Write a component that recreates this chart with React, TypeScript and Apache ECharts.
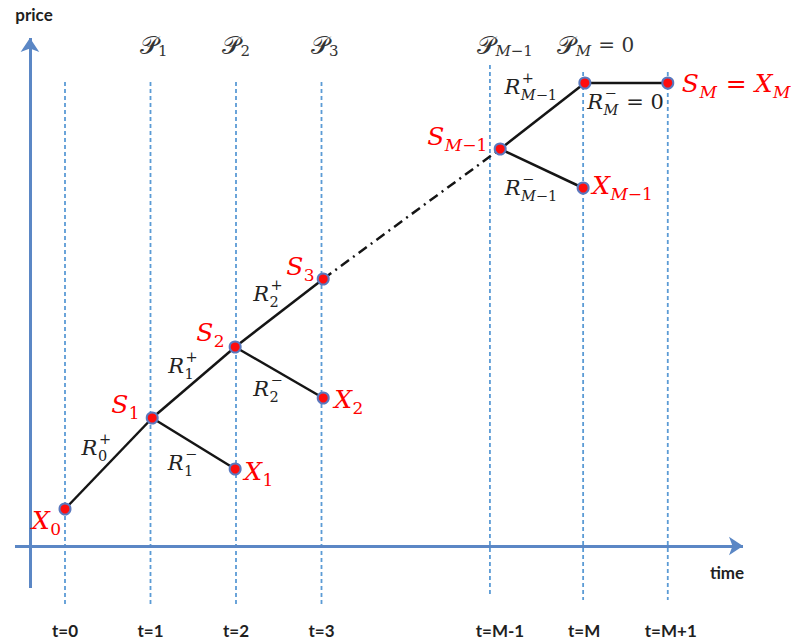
import React, { useEffect, useRef } from 'react';
import * as echarts from 'echarts';

// ---- data ----
const T_LABELS = ['t=0', 't=1', 't=2', 't=3', 't=M-1', 't=M', 't=M+1'];
const T_SLOTS = [0, 1, 2, 3, 4.97, 6.06, 7.05];

const NODE_NAMES = ['X0', 'S1', 'X1', 'S2', 'X2', 'S3', 'SM1', 'XM1', 'SM', 'SMX'];
const NODE_TIME = [0, 1.02, 1.99, 1.99, 3.02, 3.02, 5.09, 6.06, 6.08, 7.05];
const NODE_PRICE = [3.7, 12.8, 7.7, 19.9, 14.8, 26.7, 39.7, 35.8, 46.3, 46.3];

const EDGE_FROM = ['X0', 'S1', 'S1', 'S2', 'S2', 'S3', 'SM1', 'SM1', 'SM'];
const EDGE_TO = ['S1', 'X1', 'S2', 'X2', 'S3', 'SM1', 'SM', 'XM1', 'SMX'];
const EDGE_DASHDOT = [false, false, false, false, false, true, false, false, false];

// guide (period) lines extents, in price units
const GUIDE_TOP = [46.4, 46.4, 46.4, 46.4, 48.1, 47.4, 47.4];
const GUIDE_BOTTOM = [-6.4, -6.4, -6.4, -6.4, -4.9, -5.4, -5.4];
const HEADER_PRICE = 50.1;

// axis arrows extents
const X_AXIS_FROM = -0.585;
const X_AXIS_TO = 7.93;
const Y_AXIS_AT = -0.41;
const Y_AXIS_FROM = -4.2;
const Y_AXIS_TO = 50.8;

type Atom = { b?: string; sup?: string; sub?: string; t?: string };
type Anchor = ['node', string] | ['edge', number] | ['slot', number];
type LabelDef = { kind: 'red' | 'black' | 'cal'; anchor: Anchor; atoms: Atom[]; dx: number; dy: number };

const LABELS: LabelDef[] = [
  { kind: 'red', anchor: ['node', 'X0'], atoms: [{ b: 'X', sub: '0' }], dx: -33, dy: 11 },
  { kind: 'red', anchor: ['node', 'S1'], atoms: [{ b: 'S', sub: '1' }], dx: -41, dy: -14 },
  { kind: 'red', anchor: ['node', 'X1'], atoms: [{ b: 'X', sub: '1' }], dx: 9, dy: 2 },
  { kind: 'red', anchor: ['node', 'S2'], atoms: [{ b: 'S', sub: '2' }], dx: -39, dy: -15 },
  { kind: 'red', anchor: ['node', 'X2'], atoms: [{ b: 'X', sub: '2' }], dx: 11, dy: 1 },
  { kind: 'red', anchor: ['node', 'S3'], atoms: [{ b: 'S', sub: '3' }], dx: -37, dy: -13 },
  { kind: 'red', anchor: ['node', 'SM1'], atoms: [{ b: 'S', sub: 'M−1' }], dx: -73, dy: -13 },
  { kind: 'red', anchor: ['node', 'XM1'], atoms: [{ b: 'X', sub: 'M−1' }], dx: 9, dy: -3 },
  { kind: 'red', anchor: ['node', 'SMX'], atoms: [{ b: 'S', sub: 'M' }, { t: ' = ' }, { b: 'X', sub: 'M' }], dx: 14, dy: 0 },

  { kind: 'black', anchor: ['edge', 0], atoms: [{ b: 'R', sup: '+', sub: '0' }], dx: -27, dy: -15.5 },
  { kind: 'black', anchor: ['edge', 1], atoms: [{ b: 'R', sup: '−', sub: '1' }], dx: -26, dy: 19.5 },
  { kind: 'black', anchor: ['edge', 2], atoms: [{ b: 'R', sup: '+', sub: '1' }], dx: -25.5, dy: -16.5 },
  { kind: 'black', anchor: ['edge', 3], atoms: [{ b: 'R', sup: '−', sub: '2' }], dx: -26, dy: 16.5 },
  { kind: 'black', anchor: ['edge', 4], atoms: [{ b: 'R', sup: '+', sub: '2' }], dx: -26, dy: -19 },
  { kind: 'black', anchor: ['edge', 6], atoms: [{ b: 'R', sup: '+', sub: 'M−1' }], dx: -38, dy: -29 },
  { kind: 'black', anchor: ['edge', 7], atoms: [{ b: 'R', sup: '−', sub: 'M−1' }], dx: -37, dy: 19.5 },
  { kind: 'black', anchor: ['edge', 8], atoms: [{ b: 'R', sup: '−', sub: 'M' }, { t: ' = 0' }], dx: -39, dy: 19 },

  { kind: 'cal', anchor: ['slot', 1], atoms: [{ b: '𝒫', sub: '1' }], dx: -11, dy: 0 },
  { kind: 'cal', anchor: ['slot', 2], atoms: [{ b: '𝒫', sub: '2' }], dx: -14, dy: 0 },
  { kind: 'cal', anchor: ['slot', 3], atoms: [{ b: '𝒫', sub: '3' }], dx: -11, dy: 0 },
  { kind: 'cal', anchor: ['slot', 4], atoms: [{ b: '𝒫', sub: 'M−1' }], dx: -13, dy: 0 },
  { kind: 'cal', anchor: ['slot', 5], atoms: [{ b: '𝒫', sub: 'M' }, { t: ' = 0' }], dx: -26, dy: 0 },
];

const T_LABEL_SHIFT = [0, 0, 0, 0, 10, 1, 3];

// ---- styles ----
const MATH_FONT = '"DejaVu Serif", "DejaVu Sans", serif';
type LabelClass = { color: string; base: number; script: number; tail: number; sub: number; sup: number; italicBase: boolean };
const LABEL_CLASS: Record<string, LabelClass> = {
  red: { color: '#ff0000', base: 25, script: 17, tail: 25, sub: 8.5, sup: -9.5, italicBase: true },
  black: { color: '#222222', base: 21, script: 14.5, tail: 21, sub: 7.5, sup: -9.5, italicBase: true },
  cal: { color: '#333333', base: 25, script: 15, tail: 20, sub: 6, sup: -9, italicBase: false },
};

let measureCtx: CanvasRenderingContext2D | null = null;
function textWidth(text: string, size: number, italic: boolean): number {
  if (!measureCtx) measureCtx = document.createElement('canvas').getContext('2d');
  if (!measureCtx) return text.length * size * 0.6;
  measureCtx.font = `${italic ? 'italic ' : ''}${size}px ${MATH_FONT}`;
  return measureCtx.measureText(text).width;
}

function pushText(children: any[], text: string, x: number, y: number, size: number, italic: boolean, color: string): number {
  children.push({
    type: 'text',
    x,
    y,
    style: {
      text,
      fill: color,
      fontSize: size,
      fontFamily: MATH_FONT,
      fontStyle: italic ? 'italic' : 'normal',
      align: 'left',
      verticalAlign: 'middle',
    },
  });
  return x + textWidth(text, size, italic);
}

function pushRun(children: any[], text: string, x: number, y: number, size: number, color: string): number {
  for (const ch of Array.from(text)) {
    const it = /[A-Za-z]/.test(ch);
    x = pushText(children, ch, x, y, size, it, color);
  }
  return x;
}

function nodeIndex(name: string) {
  return NODE_NAMES.indexOf(name);
}

function anchorOf(a: Anchor): [number, number] {
  if (a[0] === 'node') {
    const i = nodeIndex(a[1] as string);
    return [NODE_TIME[i], NODE_PRICE[i]];
  }
  if (a[0] === 'edge') {
    const e = a[1] as number;
    const i = nodeIndex(EDGE_FROM[e]);
    const j = nodeIndex(EDGE_TO[e]);
    return [(NODE_TIME[i] + NODE_TIME[j]) / 2, (NODE_PRICE[i] + NODE_PRICE[j]) / 2];
  }
  return [T_SLOTS[a[1] as number], HEADER_PRICE];
}

function buildLabel(def: LabelDef, px: number, py: number) {
  const cls = LABEL_CLASS[def.kind];
  const children: any[] = [];
  let x = px + def.dx;
  const y = py + def.dy;
  for (const atom of def.atoms) {
    if (atom.b) {
      const bx = pushText(children, atom.b, x, y, cls.base, cls.italicBase, cls.color);
      let end = bx;
      if (atom.sup) end = Math.max(end, pushRun(children, atom.sup, bx + 1.5, y + cls.sup, cls.script, cls.color));
      if (atom.sub) end = Math.max(end, pushRun(children, atom.sub, bx + 0.5, y + cls.sub, cls.script, cls.color));
      x = end + 1;
    }
    if (atom.t) {
      x = pushRun(children, atom.t, x, y, cls.tail, cls.color);
    }
  }
  return { type: 'group', children };
}

const AXIS_FONT = 'Lato, "Open Sans", sans-serif';

export default function App() {
  const ref = useRef<HTMLDivElement>(null);
  useEffect(() => {
    if (!ref.current) return;
    const chart = echarts.init(ref.current, undefined, { renderer: 'svg' });

    const guideSeries = T_SLOTS.map((s, i) => ({
      type: 'line',
      data: [
        [s, GUIDE_TOP[i]],
        [s, GUIDE_BOTTOM[i]],
      ],
      symbol: 'none',
      silent: true,
      z: 1,
      lineStyle: { color: '#5b9bd5', width: 1.8, type: [4, 3] },
    }));

    const edgeSeries = EDGE_FROM.map((f, e) => {
      const i = nodeIndex(f);
      const j = nodeIndex(EDGE_TO[e]);
      return {
        type: 'line',
        data: [
          [NODE_TIME[i], NODE_PRICE[i]],
          [NODE_TIME[j], NODE_PRICE[j]],
        ],
        symbol: 'none',
        silent: true,
        z: 3,
        lineStyle: { color: '#151515', width: 2.5, type: EDGE_DASHDOT[e] ? [10, 5, 2, 5] : 'solid' },
      };
    });

    const rich: Record<string, any> = {};
    T_LABELS.forEach((_, i) => {
      const s = T_LABEL_SHIFT[i];
      rich['s' + i] = {
        fontFamily: AXIS_FONT,
        fontSize: 17,
        fontWeight: 'bold',
        color: '#1f1f1f',
        padding: s >= 0 ? [0, 0, 0, 2 * s] : [0, -2 * s, 0, 0],
      };
    });

    const option: any = {
      animation: false,
      grid: { left: 13.7, right: 27.9, top: 26, bottom: 37, containLabel: false },
      xAxis: {
        type: 'value',
        min: -0.6,
        max: 8.2,
        axisLine: { show: false, onZero: false },
        axisTick: { show: false },
        splitLine: { show: false },
        axisLabel: {
          customValues: T_SLOTS,
          margin: 16,
          formatter: (v: number) => {
            const i = T_SLOTS.findIndex((s) => Math.abs(s - v) < 1e-6);
            return i < 0 ? '' : `{s${i}|${T_LABELS[i]}}`;
          },
          rich,
        },
      },
      yAxis: { type: 'value', min: -6, max: 52, show: false },
      graphic: [
        {
          type: 'text',
          x: 34,
          y: 14,
          style: { text: 'price', fontFamily: AXIS_FONT, fontSize: 17, fontWeight: 'bold', fill: '#1f1f1f', align: 'center', verticalAlign: 'middle' },
        },
        {
          type: 'text',
          x: 727,
          y: 572,
          style: { text: 'time', fontFamily: AXIS_FONT, fontSize: 17, fontWeight: 'bold', fill: '#1f1f1f', align: 'center', verticalAlign: 'middle' },
        },
      ],
      series: [
        ...guideSeries,
        {
          type: 'lines',
          coordinateSystem: 'cartesian2d',
          symbol: ['none', 'arrow'],
          symbolSize: 14,
          silent: true,
          z: 2,
          lineStyle: { color: '#5b87c5', width: 3, opacity: 1 },
          data: [
            { coords: [[X_AXIS_FROM, 0], [X_AXIS_TO, 0]] },
            { coords: [[Y_AXIS_AT, Y_AXIS_FROM], [Y_AXIS_AT, Y_AXIS_TO]] },
          ],
        },
        ...edgeSeries,
        {
          type: 'scatter',
          data: NODE_TIME.map((t, i) => [t, NODE_PRICE[i]]),
          symbolSize: 11,
          silent: true,
          z: 4,
          itemStyle: { color: '#ff0d0d', borderColor: '#5a78be', borderWidth: 2, opacity: 1 },
        },
        {
          type: 'custom',
          clip: false,
          silent: true,
          z: 5,
          encode: { x: 0, y: 1 },
          data: LABELS.map((l, i) => [...anchorOf(l.anchor), i]),
          renderItem: (_params: any, api: any) => {
            const idx = api.value(2) as number;
            const pt = api.coord([api.value(0), api.value(1)]);
            return buildLabel(LABELS[idx], pt[0], pt[1]);
          },
        },
      ],
    };
    chart.setOption(option);
    return () => chart.dispose();
  }, []);
  return <div ref={ref} style={{ position: 'absolute', left: 0, top: 0, width: 794, height: 643 }} />;
}
